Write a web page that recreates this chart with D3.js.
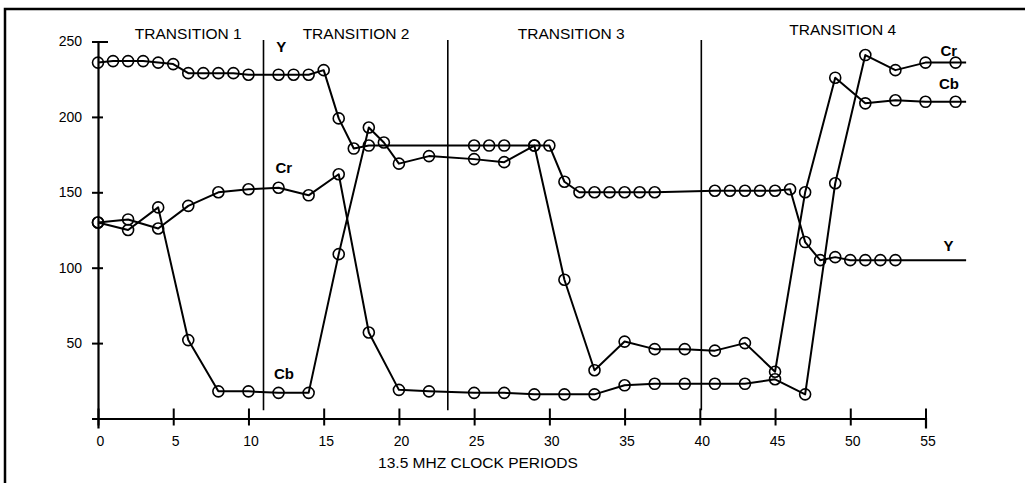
<!DOCTYPE html>
<html>
<head>
<meta charset="utf-8">
<script src="https://cdn.jsdelivr.net/npm/d3@7"></script>
<style>
  html, body { margin: 0; padding: 0; background: #fff; }
  svg { display: block; font-family: "Liberation Sans", Arial, sans-serif; }
</style>
</head>
<body>
<svg id="chart" width="1025" height="483"></svg>
<script>
// clock periods and 8-bit levels
var yX   = [0,1,2,3,4,5,6,7,8,9,10,12,13,14,15,16,17,18,25,26,27,29,30,31,32,33,34,35,36,37,41,42,43,44,45,46,47,48,49,50,51,52,53];
var yVal = [236,237,237,237,236,235,229,229,229,229,228,228,228,228,231,199,179,181,181,181,181,181,181,157,150,150,150,150,150,150,151,151,151,151,151,152,117,105,107,105,105,105,105];

var crX   = [0,2,4,6,8,10,12,14,16,18,20,22,25,27,29,31,33,35,37,39,41,43,45,47,49,51,53,55,57];
var crVal = [130,132,126,141,150,152,153,148,162,57,19,18,17,17,16,16,16,22,23,23,23,23,26,16,156,241,231,236,236];

var cbX   = [0,2,4,6,8,10,12,14,16,18,19,20,22,25,27,29,31,33,35,37,39,41,43,45,47,49,51,53,55,57];
var cbVal = [130,125,140,52,18,18,17,17,109,193,183,169,174,172,170,181,92,32,51,46,46,45,50,31,150,226,209,211,210,210];

var lineEnd = 57.7;            // where the traces run on past the last sample
var boundaries = [11, 23.25, 40.1];
var transitions = ["TRANSITION 1", "TRANSITION 2", "TRANSITION 3", "TRANSITION 4"];
var transitionMid = [6, 17.15, 31.45, 49.5];
var xTicks = [0,5,10,15,20,25,30,35,40,45,50,55];
var yTicks = [50,100,150,200,250];

var svg = d3.select("#chart");
var x = d3.scaleLinear().domain([0, 55]).range([98, 925.5]);
var y = d3.scaleLinear().domain([0, 250]).range([418.5, 41.5]);

// frame (top and left edges only, as on the scan)
svg.append("path").attr("d", "M5,483V9H1025")
   .attr("fill", "none").attr("stroke", "#000").attr("stroke-width", 2.5);

// x axis
var gx = svg.append("g").attr("transform", "translate(0," + y(0) + ")")
  .call(d3.axisBottom(x).tickValues(xTicks).tickSizeOuter(0).tickSize(10));
gx.select(".domain").attr("stroke-width", 2.2);
gx.selectAll(".tick line").attr("y1", -10).attr("y2", 7).attr("stroke-width", 2);
gx.selectAll(".tick text").attr("y", 18).attr("dx", 2)
  .attr("font-size", 14).attr("font-family", "Liberation Sans, Arial, sans-serif").attr("fill", "#000");

// y axis
var gy = svg.append("g").attr("transform", "translate(" + x(0) + ",0)")
  .call(d3.axisLeft(y).tickValues(yTicks).tickSizeOuter(0).tickSize(6));
gy.select(".domain").attr("stroke-width", 2.2);
gy.selectAll(".tick line").attr("x1", -6).attr("x2", function(d) { return d == 250 ? 10 : 5; }).attr("stroke-width", 2);
gy.selectAll(".tick text").attr("x", -16)
  .attr("font-size", 14).attr("font-family", "Liberation Sans, Arial, sans-serif").attr("fill", "#000");

svg.append("text").attr("x", 478).attr("y", 468).attr("text-anchor", "middle")
   .attr("font-size", 15.5).text("13.5 MHZ CLOCK PERIODS");

// transition separators and headings
svg.selectAll(".sep").data(boundaries).enter().append("line")
   .attr("x1", function(d) { return x(d); }).attr("x2", function(d) { return x(d); })
   .attr("y1", y(251)).attr("y2", y(5.5))
   .attr("stroke", "#000").attr("stroke-width", 1.6);

svg.selectAll(".ttl").data(transitions).enter().append("text")
   .attr("x", function(d, i) { return x(transitionMid[i]); })
   .attr("y", function(d, i) { return i == 3 ? 35 : 39; })
   .attr("text-anchor", "middle").attr("font-size", 15.5).text(function(d) { return d; });

// traces
function drawSeries(xs, vs, extend) {
  var pts = xs.map(function(d, i) { return [d, vs[i]]; });
  var path = pts.slice();
  if (extend) path.push([lineEnd, vs[vs.length - 1]]);
  var line = d3.line().x(function(d) { return x(d[0]); }).y(function(d) { return y(d[1]); });
  svg.append("path").attr("d", line(path))
     .attr("fill", "none").attr("stroke", "#000").attr("stroke-width", 2).attr("stroke-linejoin", "round");
  svg.append("g").selectAll("circle").data(pts).enter().append("circle")
     .attr("cx", function(d) { return x(d[0]); }).attr("cy", function(d) { return y(d[1]); })
     .attr("r", 5.5).attr("fill", "none").attr("stroke", "#000").attr("stroke-width", 1.6);
}
drawSeries(yX, yVal, true);
drawSeries(crX, crVal, true);
drawSeries(cbX, cbVal, true);

// series labels
var labels = [
  {t: "Y",  x: 11.85, y: 243},
  {t: "Cr", x: 11.8,  y: 163},
  {t: "Cb", x: 11.7,  y: 26},
  {t: "Cr", x: 56.0,  y: 240.5},
  {t: "Cb", x: 55.9,  y: 218.5},
  {t: "Y",  x: 56.2,  y: 111}
];
svg.selectAll(".lab").data(labels).enter().append("text")
   .attr("x", function(d) { return x(d.x); }).attr("y", function(d) { return y(d.y); })
   .attr("font-size", 15).attr("font-weight", "bold").text(function(d) { return d.t; });
</script>
</body>
</html>
